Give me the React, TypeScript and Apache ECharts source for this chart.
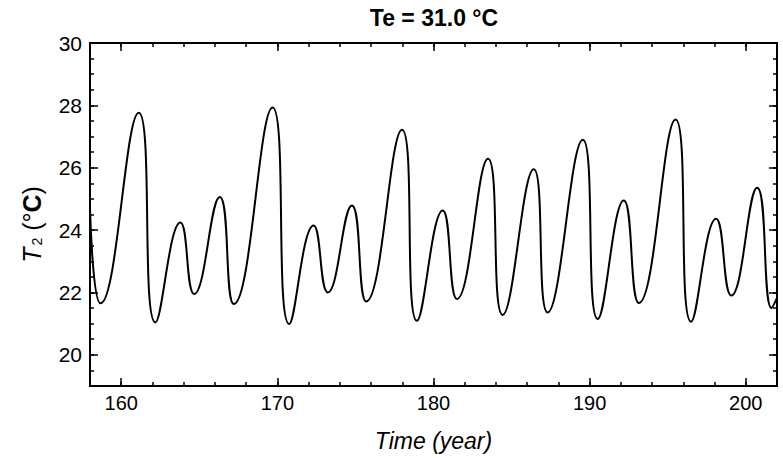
import React, { useEffect, useRef } from "react";
import * as echarts from "echarts";

// Time (year) and T2 (°C) at the turning points
const timeYears = [
  158.0, 158.68, 161.12, 162.19, 163.79, 164.67, 166.31, 167.21, 169.69, 170.76,
  172.32, 173.23, 174.77, 175.69, 177.98, 178.94, 180.59, 181.5, 183.49, 184.43,
  186.42, 187.31, 189.56, 190.52, 192.19, 193.15, 195.5, 196.5, 198.1, 199.07,
  200.73, 201.65, 202.02,
];
const t2Values = [
  24.7, 21.65, 27.76, 21.04, 24.24, 21.95, 25.06, 21.63, 27.93, 20.99,
  24.15, 22.0, 24.79, 21.71, 27.22, 21.09, 24.63, 21.79, 26.29, 21.28,
  25.95, 21.36, 26.9, 21.15, 24.95, 21.66, 27.55, 21.06, 24.36, 21.9,
  25.36, 21.5, 21.85,
];

const xMajorTicks = [160, 170, 180, 190, 200];
const xMinorTicks = [158, 160, 162, 164, 166, 168, 170, 172, 174, 176, 178, 180, 182, 184, 186, 188, 190, 192, 194, 196, 198, 200, 202];
const yMajorTicks = [20, 22, 24, 26, 28, 30];
const yMinorTicks = [19, 19.5, 20, 20.5, 21, 21.5, 22, 22.5, 23, 23.5, 24, 24.5, 25, 25.5, 26, 26.5, 27, 27.5, 28, 28.5, 29, 29.5, 30];

const FONT = "'Liberation Sans', Arial, sans-serif";

export default function App() {
  const ref = useRef<HTMLDivElement>(null);
  useEffect(() => {
    document.body.style.margin = "0";
    if (!ref.current) return;
    const chart = echarts.init(ref.current, null, { renderer: "svg" });
    const X_MIN = 158, X_MAX = 202, Y_MIN = 19, Y_MAX = 30;
    const lineStyle = { color: "#000", width: 2 };
    const mkX = (pos: string, ticks: number[], len: number, labels: boolean, extra: any = {}) => ({
      type: "value",
      min: X_MIN,
      max: X_MAX,
      position: pos,
      axisLine: { show: true, onZero: false, lineStyle },
      axisTick: { show: true, inside: true, length: len, customValues: ticks, lineStyle: { color: "#000", width: 1.5 } },
      axisLabel: labels
        ? { show: true, customValues: xMajorTicks, color: "#000", fontSize: 20, fontFamily: FONT, margin: 7 }
        : { show: false },
      splitLine: { show: false },
      ...extra,
    });
    const mkY = (pos: string, ticks: number[], len: number, labels: boolean, extra: any = {}) => ({
      type: "value",
      min: Y_MIN,
      max: Y_MAX,
      position: pos,
      axisLine: { show: true, onZero: false, lineStyle },
      axisTick: { show: true, inside: true, length: len, customValues: ticks, lineStyle: { color: "#000", width: 1.5 } },
      axisLabel: labels
        ? { show: true, customValues: yMajorTicks, color: "#000", fontSize: 21, fontFamily: FONT, margin: 8 }
        : { show: false },
      splitLine: { show: false },
      ...extra,
    });
    chart.setOption({
      animation: false,
      backgroundColor: "#fff",
      grid: { left: 90, right: 6, top: 43, bottom: 72, containLabel: false, outerBoundsMode: "none" },
      xAxis: [
        mkX("bottom", xMajorTicks, 8, true, {
          name: "Time (year)",
          nameLocation: "middle",
          nameGap: 43,
          nameTextStyle: { color: "#000", fontSize: 23, fontStyle: "italic", fontFamily: FONT },
        }),
        mkX("bottom", xMinorTicks, 4, false),
        mkX("top", xMajorTicks, 8, false),
        mkX("top", xMinorTicks, 4, false),
      ],
      yAxis: [
        mkY("left", yMajorTicks, 8, true, {
          name: "{i|T}{s|2}{n| (°}{b|C}{n|)}",
          nameLocation: "middle",
          nameGap: 46,
          nameRotate: 90,
          nameTextStyle: {
            color: "#000",
            fontFamily: FONT,
            padding: [0, 20, 0, 0],
            rich: {
              i: { fontSize: 25, fontStyle: "italic", fontFamily: FONT, color: "#000" },
              s: { fontSize: 14, fontFamily: FONT, color: "#000", verticalAlign: "bottom", padding: [10, 0, 0, 2] },
              n: { fontSize: 25, fontFamily: FONT, color: "#000" },
              b: { fontSize: 25, fontWeight: "bold", fontFamily: FONT, color: "#000" },
            },
          },
        }),
        mkY("left", yMinorTicks, 4, false),
        mkY("right", yMajorTicks, 8, false),
        mkY("right", yMinorTicks, 4, false),
      ],
      graphic: [
        {
          type: "text",
          x: 434,
          y: 6,
          style: {
            text: "Te = 31.0 °C",
            fill: "#000",
            font: `bold 23px ${FONT}`,
            textAlign: "center",
            textVerticalAlign: "top",
          },
        },
      ],
      series: [
        {
          type: "line",
          xAxisIndex: 0,
          yAxisIndex: 0,
          data: timeYears.map((t, i) => [t, t2Values[i]]),
          showSymbol: false,
          smooth: 0.5,
          lineStyle: { color: "#000", width: 2 },
          clip: true,
        },
      ],
    });
    return () => chart.dispose();
  }, []);
  return <div ref={ref} style={{ width: 783, height: 458 }} />;
}
